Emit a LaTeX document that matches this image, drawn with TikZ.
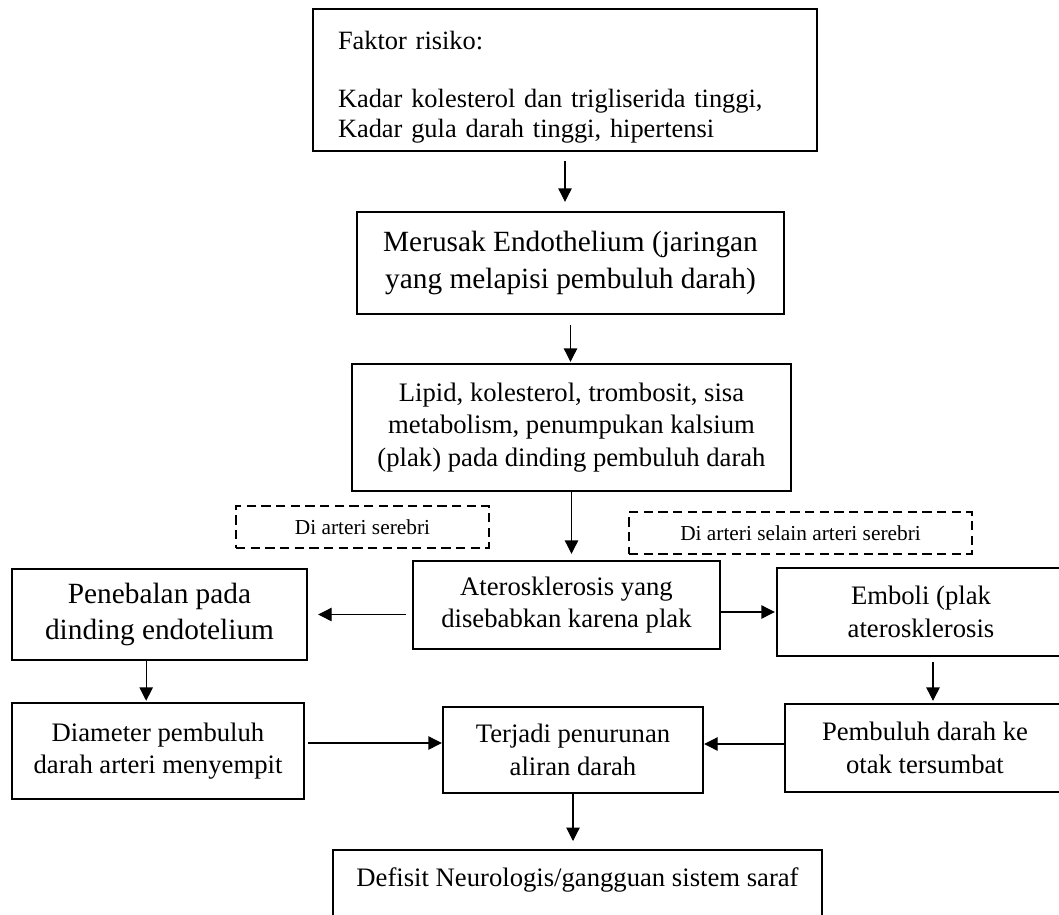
\documentclass[tikz,border=0pt]{standalone}
\usepackage{fontspec}
\setmainfont{Liberation Serif}
\usetikzlibrary{arrows.meta}

\begin{document}
\begin{tikzpicture}[x=0.75pt,y=-0.75pt,every node/.style={align=center},
      kotak/.style={draw,line width=1.8pt,inner sep=0pt,font=\fontsize{20pt}{24.4pt}\selectfont},
      besar/.style={font=\fontsize{22pt}{27.5pt}\selectfont},
      putus/.style={draw,line width=1.5pt,dash pattern=on 7pt off 4pt,inner sep=0pt,minimum height=31.5pt,font=\fontsize{16pt}{19pt}\selectfont},
      arr/.style={-{Triangle[length=10pt,width=10pt]},line width=0.8pt}]
    \clip[use as bounding box] (0,0) rectangle (1059,914);
    \node[kotak,align=left,text width=340.5pt,inner xsep=18.75pt,inner ysep=6.2pt,font=\fontsize{19.8pt}{22.5pt}\selectfont] (faktor) at (565,80)
      {\rule{0pt}{23.8pt}Faktor risiko:\\[21pt]Kadar kolesterol dan trigliserida tinggi,\\Kadar gula darah tinggi, hipertensi};
    \node[kotak,besar,minimum width=320.25pt,minimum height=76.5pt] (merusak) at (570.5,263) {Merusak Endothelium (jaringan\\yang melapisi pembuluh darah)};
    \node[kotak,minimum width=329.25pt,minimum height=95.25pt] (lipid) at (571.5,427.5) {Lipid, kolesterol, trombosit, sisa\\metabolism, penumpukan kalsium\\(plak) pada dinding pembuluh darah};
    \node[putus,minimum width=189.75pt] (serebri) at (362.5,527) {Di arteri serebri};
    \node[putus,minimum width=257.25pt] (selain) at (800.5,533) {Di arteri selain arteri serebri};
    \node[kotak,minimum width=230.25pt,minimum height=66pt] (ateros) at (566.5,605) {Aterosklerosis yang\\disebabkan karena plak};
    \node[kotak,besar,minimum width=221.25pt,minimum height=68.25pt] (penebalan) at (159.5,614.5) {Penebalan pada\\dinding endotelium};
    \node[kotak,minimum width=216pt,minimum height=66pt] (emboli) at (921,612) {Emboli (plak\\aterosklerosis};
    \node[kotak,minimum width=219pt,minimum height=72pt] (diameter) at (158,751) {Diameter pembuluh\\darah arteri menyempit};
    \node[kotak,minimum width=195pt,minimum height=64.5pt] (terjadi) at (573,750) {Terjadi penurunan\\aliran darah};
    \node[kotak,minimum width=210pt,minimum height=66pt] (pembuluh) at (925,748) {Pembuluh darah ke\\otak tersumbat};
    \node[kotak,anchor=north,minimum width=366.75pt,inner ysep=13.5pt,text depth=30pt] (defisit) at (577.5,849) {Defisit Neurologis/gangguan sistem saraf};
    % panah
    \draw[arr,shorten <=6.75pt,shorten >=6.75pt] (faktor.south) -- (faktor.south |- merusak.north);
    \draw[arr,shorten <=7.5pt,shorten >=0.75pt] (merusak.south) -- (merusak.south |- lipid.north);
    \draw[arr,shorten >=4.5pt] (lipid.south) -- (lipid.south |- ateros.north);
    \draw[arr,shorten <=4.5pt,shorten >=7.5pt] (ateros.west |- penebalan.east) -- (penebalan.east);
    \draw[arr,shorten >=0.75pt] (ateros.east |- emboli.west) -- (emboli.west);
    \draw[arr,shorten >=0.75pt] ([xshift=-10pt]penebalan.south) -- ([xshift=-10pt]penebalan.south |- diameter.north);
    \draw[arr,shorten <=3.75pt,shorten >=1.5pt] ([xshift=9pt]emboli.south) -- ([xshift=9pt]emboli.south |- pembuluh.north);
    \draw[arr,shorten <=2.25pt] ([yshift=6pt]diameter.east) -- ([yshift=6pt]diameter.east -| terjadi.west);
    \draw[arr] ([yshift=3pt]pembuluh.west) -- ([yshift=3pt]pembuluh.west -| terjadi.east);
    \draw[arr,shorten >=6pt] (terjadi.south) -- (terjadi.south |- defisit.north);
  \end{tikzpicture}
\end{document}
